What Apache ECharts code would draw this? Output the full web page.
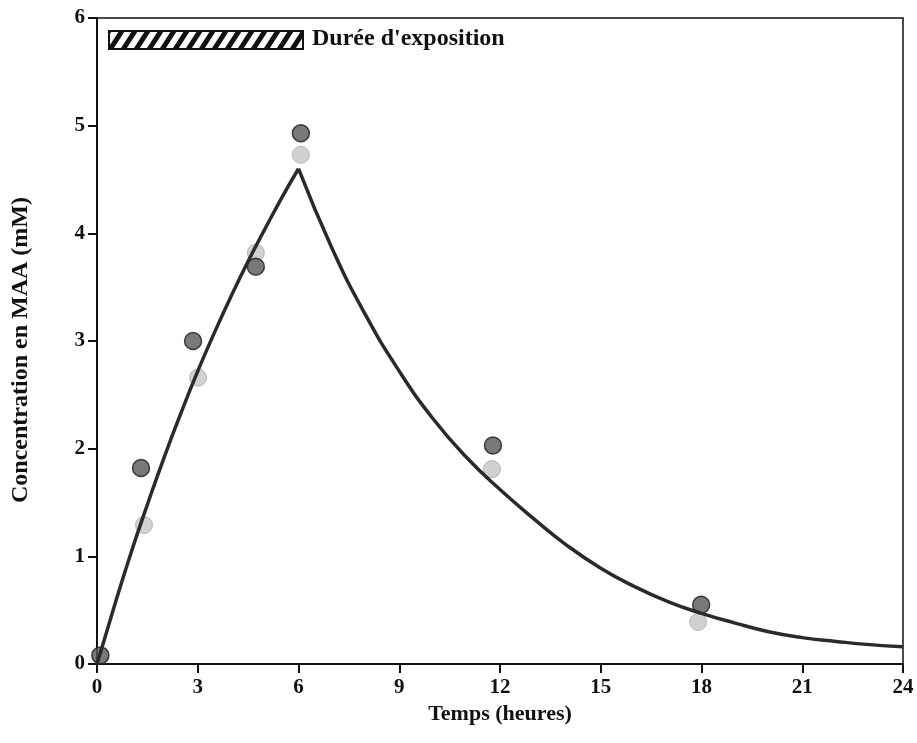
<!DOCTYPE html>
<html>
<head>
<meta charset="utf-8">
<script src="https://cdn.jsdelivr.net/npm/echarts@6/dist/echarts.min.js"></script>
<style>html,body{margin:0;padding:0;background:#fff;}#c{width:917px;height:743px;}</style>
</head>
<body>
<div id="c"></div>
<script>
// Data
var xTicks = [0, 3, 6, 9, 12, 15, 18, 21, 24];
var yTicks = [0, 1, 2, 3, 4, 5, 6];
var darkPts = [[0.1, 0.08], [1.31, 1.82], [2.86, 3.0], [4.73, 3.69], [6.07, 4.93], [11.79, 2.03], [17.99, 0.55]];
var lightPts = [[1.40, 1.29], [3.01, 2.66], [4.73, 3.82], [6.07, 4.73], [11.76, 1.81], [17.9, 0.39]];
var riseCurve = [[0, 0], [0.5, 0.52], [1, 1.02], [1.5, 1.48], [2, 1.92], [2.5, 2.33], [3, 2.72], [3.5, 3.08], [4, 3.42], [4.5, 3.74], [5, 4.04], [5.5, 4.33], [6, 4.60]];
var decayCurve = [[6, 4.60], [7, 3.86], [8, 3.24], [9, 2.72], [10, 2.28], [11, 1.92], [12, 1.62], [13, 1.35], [14, 1.10], [15, 0.89], [16, 0.72], [17, 0.58], [18, 0.47], [19, 0.38], [20, 0.30], [21, 0.245], [22, 0.21], [23, 0.18], [24, 0.16]];
var legendText = "Durée d'exposition";
var xName = "Temps (heures)";
var yName = "Concentration en MAA (mM)";

// hatch pattern (steep "/" stripes)
var PW = 13, PH = 20;
var pc = document.createElement('canvas');
pc.width = PW; pc.height = PH;
var g = pc.getContext('2d');
g.fillStyle = '#fff'; g.fillRect(0, 0, PW, PH);
g.strokeStyle = '#111'; g.lineWidth = 5;
g.beginPath();
for (var k = -1; k <= 1; k++) {
  g.moveTo(k * PW, PH); g.lineTo((k + 1) * PW, 0);
}
g.stroke();

var font = "'Liberation Serif', 'DejaVu Serif', serif";
var chart = echarts.init(document.getElementById('c'), null, {renderer: 'canvas'});
chart.setOption({
  animation: false,
  backgroundColor: '#fff',
  grid: {left: 97, right: 14, top: 18, bottom: 79, show: true, borderColor: '#111', borderWidth: 1.5, containLabel: false},
  xAxis: {
    type: 'value', min: 0, max: 24, interval: 3,
    name: xName, nameLocation: 'middle', nameGap: 33,
    nameTextStyle: {fontFamily: font, fontWeight: 'bold', fontSize: 22, color: '#111'},
    axisLine: {show: true, lineStyle: {color: '#111', width: 2}},
    axisTick: {show: true, length: 9, lineStyle: {color: '#111', width: 2}},
    axisLabel: {fontFamily: font, fontWeight: 'bold', fontSize: 21, color: '#111', margin: 13,
      formatter: function (v) { return xTicks.indexOf(v) >= 0 ? String(v) : ''; }},
    splitLine: {show: false}
  },
  yAxis: {
    type: 'value', min: 0, max: 6, interval: 1,
    name: yName, nameLocation: 'middle', nameGap: 64, nameRotate: 90,
    nameTextStyle: {fontFamily: font, fontWeight: 'bold', fontSize: 24, color: '#111', padding: [0, 18, 0, 0]},
    axisLine: {show: true, lineStyle: {color: '#111', width: 2}},
    axisTick: {show: true, length: 9, lineStyle: {color: '#111', width: 2}},
    axisLabel: {fontFamily: font, fontWeight: 'bold', fontSize: 21, color: '#111', margin: 12,
      formatter: function (v) { return yTicks.indexOf(v) >= 0 ? String(v) : ''; }},
    splitLine: {show: false}
  },
  graphic: [
    {type: 'rect', left: 108, top: 30, shape: {width: 194, height: 18},
     style: {fill: {image: pc, repeat: 'repeat'}, stroke: '#111', lineWidth: 2}},
    {type: 'text', left: 312, top: 27,
     style: {text: legendText, fontFamily: font, fontWeight: 'bold', fontSize: 24, fill: '#111'}}
  ],
  series: [
    {type: 'scatter', data: lightPts, symbolSize: 17, z: 2,
     itemStyle: {color: '#c6c6c6', borderColor: '#a8a8a8', borderWidth: 1}},
    {type: 'scatter', data: darkPts, symbolSize: 17, z: 3,
     itemStyle: {color: '#575757', borderColor: '#1a1a1a', borderWidth: 1.5}},
    {type: 'line', data: riseCurve, smooth: 0.5, showSymbol: false, z: 4,
     lineStyle: {color: '#2a2a2a', width: 3.5}},
    {type: 'line', data: decayCurve, smooth: 0.5, showSymbol: false, z: 4,
     lineStyle: {color: '#2a2a2a', width: 3.5}}
  ]
});
</script>
</body>
</html>
